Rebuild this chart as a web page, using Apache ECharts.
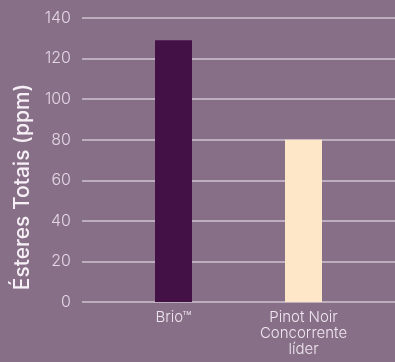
<!DOCTYPE html>
<html><head><meta charset="utf-8">
<script src="https://cdn.jsdelivr.net/npm/echarts@6/dist/echarts.min.js"></script>
<style>html,body{margin:0;padding:0;background:#886f88;}#c{width:395px;height:362px;}</style>
</head><body><div id="c"></div>
<script>
const categories = ['Brio™', 'Pinot Noir\nConcorrente\nlíder'];
const values = [129, 80];
const barColors = ['#441147', '#fee6c8'];
const yAxisName = 'Ésteres Totais (ppm)';
const yMin = 0, yMax = 140, yStep = 20;

const chart = echarts.init(document.getElementById('c'));
chart.setOption({
  backgroundColor: '#886f88',
  animation: false,
  textStyle: { fontFamily: 'Inter' },
  grid: [
    { left: 82, right: 0, top: 18, bottom: 60 },
    { left: 108.5, right: 26.5, top: 18, bottom: 60 }
  ],
  xAxis: [
    { type: 'category', gridIndex: 0, data: categories, show: false },
    { type: 'category', gridIndex: 1, data: categories,
      axisLine: { show: false }, axisTick: { show: false },
      axisLabel: { color: '#eee6ee', fontSize: 15, lineHeight: 16, margin: 7, fontFamily: 'Inter', fontWeight: 300 } }
  ],
  yAxis: [
    { type: 'value', gridIndex: 0, min: yMin, max: yMax, interval: yStep,
      axisLine: { show: false }, axisTick: { show: false },
      axisLabel: { color: '#e2d6e2', fontSize: 16, margin: 11, fontFamily: 'Inter', fontWeight: 300 },
      splitLine: { lineStyle: { color: '#cfc3d0', width: 1.5 } } },
    { type: 'value', gridIndex: 1, min: yMin, max: yMax, interval: yStep, show: false }
  ],
  series: [{
    type: 'bar', xAxisIndex: 1, yAxisIndex: 1,
    barWidth: 37,
    data: values.map((v, i) => ({ value: v, itemStyle: { color: barColors[i] } }))
  }],
  graphic: [{
    type: 'text', x: 23, y: 187, rotation: Math.PI / 2,
    style: { text: yAxisName, fill: '#f6f0f6', font: '500 21px Inter', align: 'center', verticalAlign: 'middle' }
  }]
});
</script></body></html>
